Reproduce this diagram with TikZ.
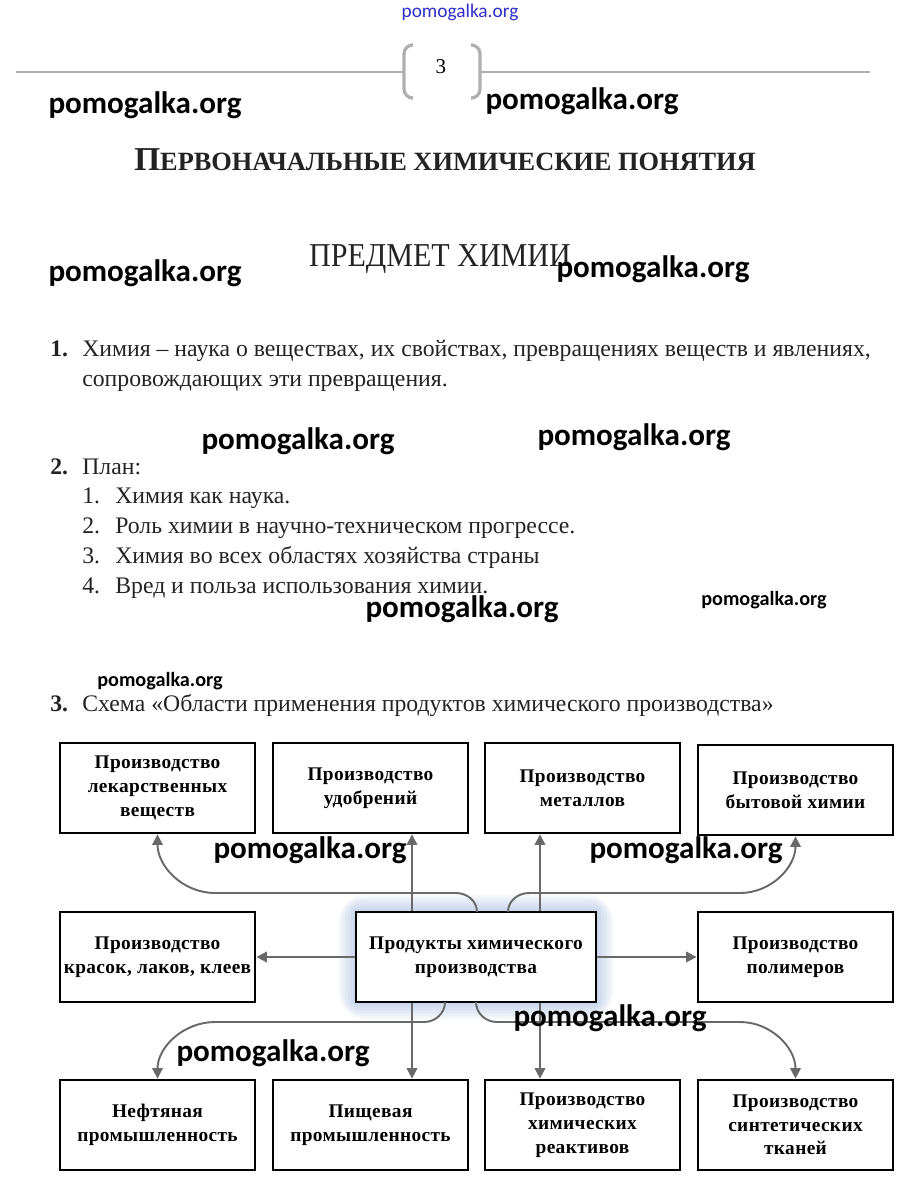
\documentclass[tikz,border=0pt]{standalone}
\usepackage{fontspec}
\setmainfont{Liberation Serif}
\newfontfamily\condfont{Liberation Serif}[FakeStretch=0.9]
\newfontfamily\boxfont{Liberation Serif}[LetterSpace=2]
\newfontfamily\wmfont{Carlito}
\usetikzlibrary{arrows.meta,calc,backgrounds}
\definecolor{rulegray}{RGB}{175,175,175}
\definecolor{arrgray}{RGB}{105,105,105}
\definecolor{glowblue}{RGB}{110,140,200}
\definecolor{wmblue}{RGB}{45,45,205}
\definecolor{inkc}{RGB}{35,35,35}

\begin{document}
\begin{tikzpicture}[
    x=0.02cm, y=-0.02cm,
    box/.style={draw, line width=1.6pt, fill=white, minimum width=3.9cm, minimum height=1.8cm,
                align=center, inner sep=2pt, font=\boxfont\bfseries\fontsize{11}{13.5}\selectfont},
    arr/.style={-{Triangle[length=6pt,width=6pt]}, line width=1.1pt, arrgray},
    txt/.style={anchor=base west, inner sep=0pt, text=inkc, font=\fontsize{13.5}{16}\selectfont},
    num/.style={txt, font=\bfseries\fontsize{13.5}{16}\selectfont},
    wm/.style={inner sep=0pt, font=\wmfont\bfseries\fontsize{17.7}{20}\selectfont},
    wmsmall/.style={inner sep=0pt, font=\wmfont\bfseries\fontsize{11.5}{13}\selectfont}
]
\useasboundingbox (0,0) rectangle (920,1194);

% page head
\node[inner sep=0pt, text=wmblue, font=\wmfont\fontsize{11}{13}\selectfont] (wm0) at (460,12) {pomogalka.org};
\draw[rulegray, line width=1.2pt] (16,72) -- (404,72);
\draw[rulegray, line width=1.2pt] (480,72) -- (870,72);
\draw[rulegray, line width=1.8pt, rounded corners=5pt] (411,45) -- (404,45) -- (404,98) -- (411,98);
\draw[rulegray, line width=1.8pt, rounded corners=5pt] (473,45) -- (480,45) -- (480,98) -- (473,98);
\node[inner sep=0pt, font=\fontsize{12}{14}\selectfont] (pnum) at (441,67) {3};

% titles
\node[anchor=base, inner sep=0pt, text=inkc, font=\bfseries] (title) at (445,170)
    {{\fontsize{19}{22}\selectfont П}{\fontsize{15}{18}\selectfont ЕРВОНАЧАЛЬНЫЕ ХИМИЧЕСКИЕ ПОНЯТИЯ}};
\node[anchor=base, inner sep=0pt, text=inkc, font=\condfont\fontsize{19}{22}\selectfont] (subtitle) at (440,266) {ПРЕДМЕТ ХИМИИ};

% point 1
\node[num] (n1) at (50,356) {1.};
\node[txt] (t1a) at (82,356) {Химия – наука о веществах, их свойствах, превращениях веществ и явлениях,};
\node[txt] (t1b) at (82,386) {сопровождающих эти превращения.};

% point 2
\node[num] (n2) at (50,474) {2.};
\node[txt] (t2) at (82,474) {План:};
\node[txt] (p1n) at (82,503) {1.};
\node[txt] (p1) at (115,503) {Химия как наука.};
\node[txt] (p2n) at (82,533) {2.};
\node[txt] (p2) at (115,533) {Роль химии в научно-техническом прогрессе.};
\node[txt] (p3n) at (82,563) {3.};
\node[txt] (p3) at (115,563) {Химия во всех областях хозяйства страны};
\node[txt] (p4n) at (82,593) {4.};
\node[txt] (p4) at (115,593) {Вред и польза использования химии.};

% point 3
\node[num] (n3) at (50,711) {3.};
\node[txt] (t3) at (82,711) {Схема «Области применения продуктов химического производства»};

% scheme: top row
\node[box] (lek) at (157.5,788) {Производство\\лекарственных\\веществ};
\node[box] (udob) at (370.5,788) {Производство\\удобрений};
\node[box] (met) at (582.5,788) {Производство\\металлов};
\node[box] (byt) at (795.5,790) {Производство\\бытовой химии};

% scheme: middle row
\node[box] (kras) at (157.5,957) {Производство\\красок, лаков, клеев};
\node[box, minimum width=4.8cm] (prod) at (476,957) {Продукты химического\\производства};
\node[box] (polim) at (795.5,957) {Производство\\полимеров};

% scheme: bottom row
\node[box] (neft) at (157.5,1125) {Нефтяная\\промышленность};
\node[box] (pish) at (370.5,1125) {Пищевая\\промышленность};
\node[box] (reakt) at (582.5,1125) {Производство\\химических\\реактивов};
\node[box] (sint) at (795.5,1125) {Производство\\синтетических\\тканей};

% glow round the centre box
\begin{scope}[on background layer]
  \foreach \g in {16,13,...,1}
    \fill[glowblue, opacity=0.07, rounded corners=\g pt]
      ($(prod.south west)+(-\g,\g)$) rectangle ($(prod.north east)+(\g,-\g)$);
\end{scope}

\coordinate (xl) at (412,0);
\coordinate (xr) at (540,0);

% arrows up
\draw[arr] (prod.north -| xl) -- (udob.south -| xl);
\draw[arr] (prod.north -| xr) -- (met.south -| xr);
\draw[arr] (477,912) to[out=90,in=0] (456,893) -- (215,893) to[out=180,in=-90] (lek.south);
\draw[arr] (508,912) to[out=90,in=180] (529,893) -- (740,893) to[out=0,in=-90] (byt.south);

% arrows sideways
\draw[arr] (prod.west) -- (kras.east);
\draw[arr] (prod.east) -- (polim.west);

% arrows down
\draw[arr] (prod.south -| xl) -- (pish.north -| xl);
\draw[arr] (prod.south -| xr) -- (reakt.north -| xr);
\draw[arr] (445,1002) to[out=-90,in=0] (424,1022) -- (215,1022) to[out=180,in=90] (neft.north);
\draw[arr] (476,1002) to[out=-90,in=180] (497,1022) -- (740,1022) to[out=0,in=90] (sint.north);

% watermarks
\node[wm] (wm1) at (145,105) {pomogalka.org};
\node[wm] (wm2) at (582,101) {pomogalka.org};
\node[wm] (wm3) at (145,273) {pomogalka.org};
\node[wm] (wm4) at (653,269) {pomogalka.org};
\node[wm] (wm5) at (298,441) {pomogalka.org};
\node[wm] (wm6) at (634,437) {pomogalka.org};
\node[wm] (wm7) at (462,609) {pomogalka.org};
\node[wmsmall] (wm8) at (764,600) {pomogalka.org};
\node[wmsmall] (wm9) at (160,681) {pomogalka.org};
\node[wm] (wm10) at (310,850) {pomogalka.org};
\node[wm] (wm11) at (686,850) {pomogalka.org};
\node[wm] (wm12) at (610,1018) {pomogalka.org};
\node[wm] (wm13) at (273,1053) {pomogalka.org};

\end{tikzpicture}
\end{document}
